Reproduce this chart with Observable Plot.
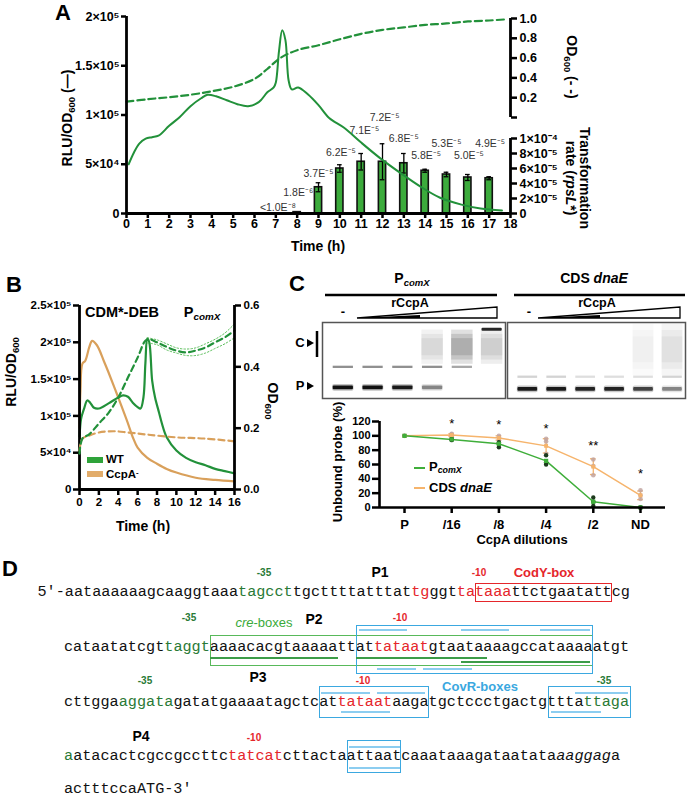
<!DOCTYPE html>
<html><head><meta charset="utf-8">
<script src="https://cdn.jsdelivr.net/npm/d3@7"></script>
<script src="https://cdn.jsdelivr.net/npm/@observablehq/plot@0.6"></script>
<style>
body{margin:0;background:#fff}
#root{position:relative;width:691px;height:799px;overflow:hidden;background:#fff;font-family:'Liberation Sans',Arial,sans-serif}
#root svg{position:absolute;overflow:visible;max-width:none}
#root sub{font-size:0.68em;vertical-align:-0.3em;line-height:0}
#root sup{font-size:0.68em;vertical-align:0.45em;line-height:0}
</style></head><body><div id="root"></div>
<script>
// ---------------- DATA ----------------
// Panel A: RLU/OD600 (solid), in thousands
const aRluTime = [0.1,0.35,0.6,0.9,1.2,1.5,2.0,2.5,3.0,3.5,3.8,4.2,4.7,5.2,5.7,6.2,6.6,6.9,7.0,7.15,7.3,7.45,7.6,7.75,8.05,8.5,9.0,9.5,10.2,11.0,11.9,12.85,13.8,14.7,15.7,16.6,17.6];
const aRluK    = [50,62,71,76,77.5,79,89,98,109,117,120.5,119,115,111,109,113,123,128,133,165,186,176,135,126,128,121,110,97,87,72,56,41,27,16,9,5,3];
// Panel A: OD600 (dashed)
const aOdTime = [0,1,2,3,4,5,6,6.6,7.2,8,9,10,11,12,13,14,15,16,17,17.7];
const aOd     = [0.16,0.185,0.205,0.23,0.265,0.31,0.39,0.49,0.60,0.68,0.73,0.79,0.845,0.885,0.91,0.935,0.95,0.97,0.98,0.99];
// Panel A: transformation rate bars (x 1e-5)
const barTime  = [7,8,9,10,11,12,13,14,15,16,17];
const barRate  = [0.001,0.18,3.5,6.0,6.9,6.9,6.7,5.7,5.2,4.8,4.7];
const barErr   = [0,0,0.6,0.5,1.1,2.4,1.3,0.2,0.3,0.4,0.2];
const barLabel = ["<1.0E⁻⁸","1.8E⁻⁶","3.7E⁻⁵","6.2E⁻⁵","7.1E⁻⁵","7.2E⁻⁵","6.8E⁻⁵","5.8E⁻⁵","5.3E⁻⁵","5.0E⁻⁵","4.9E⁻⁵"];
const barLabelTime = [7.1,8.05,9.0,10.05,11.15,12.1,13.0,14.05,15.0,16.05,17.05];
const barLabelRate = [0.8,2.8,5.3,8.1,11.1,12.8,10.0,7.7,9.3,7.7,9.3];

// Panel B
const wtTime = [0,0.15,0.3,0.5,0.8,1.1,1.5,2,3,4,4.5,5,5.5,6,6.3,6.6,6.8,7.0,7.2,7.5,7.8,8.2,8.5,9,10,11,12,13,14,15,16];
const wtRluK = [72,95,103,111,121,118,111,110,117,125,128,126,118,112,110,125,171,205,200,148,125,105,90,71,53,43,37,33,28,25,22];
const ccpaTime = [0,0.1,0.3,0.6,1.0,1.3,1.8,2.5,3,4,5,5.5,6,7,8,9,10,12,14,16];
const ccpaRluK = [84,135,171,175,193,202,196,175,159,125,90,71,57,43,35,28,23,16,13,11];
const wtOdTime = [0,0.3,1,2,3,4,5,6,6.8,7.2,8,9,10,11,12,13,14,15,16];
const wtOd     = [0.117,0.166,0.18,0.215,0.25,0.30,0.365,0.43,0.485,0.49,0.48,0.465,0.453,0.447,0.453,0.463,0.48,0.496,0.518];
const wtOdSdTime = [7,8,9,10,11,12,13,14,15,16];
const wtOdUpper  = [0.495,0.488,0.475,0.462,0.458,0.462,0.475,0.49,0.51,0.54];
const wtOdLower  = [0.478,0.472,0.455,0.445,0.437,0.437,0.445,0.46,0.475,0.495];
const ccpaOdTime = [0,0.3,1,2,3.5,5,7,10,13,16];
const ccpaOd     = [0.127,0.166,0.176,0.186,0.19,0.186,0.179,0.17,0.166,0.157];

// Panel C
const dilutions = ["P","/16","/8","/4","/2","ND"];
const comxMean = [100,95,89,65,8,0];
const comxReps = [[100],[94,96],[84,88,91],[60,63,73],[2,8,14],[0,0]];
const dnaeMean = [100,101,97,86,57,17];
const dnaeSd   = [0,2,3,10,11,6];
const dnaeReps = [[100],[98,102,103],[94,98,100],[75,92,96],[45,58,67],[12,17,24]];
const signif   = ["","*","*","*","**","*"];
const signifLevel = [0,117,115,110,86,47];
// gel lanes (intensity 0..1)
const lanes = [1,2,3,4,5,6];
const comxFree    = [1,1,0.95,0.45,0,0];
const comxUpper   = [0.5,0.5,0.5,0.5,0.4,0];
const comxSmear   = [0,0,0,0.06,0.14,0.08];
const comxComplex = [0,0,0,0,0,0.9];
const dnaeFree    = [0.95,0.95,0.9,0.9,0.75,0.45];
const dnaeUpper   = [0.2,0.2,0.15,0.15,0.15,0.2];
const dnaeSmear   = [0,0,0,0,0.025,0.045];

// ---------------- HELPERS ----------------
const SANS = "'Liberation Sans', Arial, sans-serif";
const MONO = "'Liberation Mono', 'Courier New', monospace";
const GREEN = "#22913a", BAR = "#3cab3c", TAN = "#d9a05b", CG = "#3fae3a", CO = "#f6b46c";
const root = document.getElementById("root");
const W = 691;
const SUP = {"0":"⁰","1":"¹","2":"²","3":"³","4":"⁴","5":"⁵","6":"⁶","7":"⁷","8":"⁸","9":"⁹","-":"⁻"};
const sup = s => String(s).split("").map(c => SUP[c] ?? c).join("");
function sci(v) {
  if (v === 0) return "0";
  const e = Math.floor(Math.log10(v) + 1e-9);
  const m = +(v / 10 ** e).toFixed(1);
  return `${m}×10${sup(e)}`;
}
const st = fs => ({fontFamily: SANS, fontSize: fs + "px", fontWeight: "bold", color: "#000", background: "transparent", overflow: "visible"});
function place(svg, left, top) {
  svg.style.position = "absolute"; svg.style.left = left + "px"; svg.style.top = top + "px";
  root.appendChild(svg);
}
function lab(html, x, y, o = {}) {
  const d = document.createElement("div");
  d.innerHTML = html;
  const ax = o.anchor === "start" ? 0 : -50;
  Object.assign(d.style, {position: "absolute", left: x + "px", top: y + "px",
    transform: `translate(${ax}%, -50%) rotate(${o.rot || 0}deg)`, transformOrigin: o.anchor === "start" ? "left center" : "center",
    whiteSpace: "nowrap", fontSize: (o.size || 13) + "px", fontWeight: o.weight || "bold",
    color: o.color || "#000", lineHeight: o.lh || "1.1", fontFamily: SANS, textAlign: "center",
    fontStyle: o.italic ? "italic" : "normal"});
  root.appendChild(d);
}
function rectDiv(x, y, w, h, color) {
  const d = document.createElement("div");
  Object.assign(d.style, {position: "absolute", left: x + "px", top: y + "px", width: w + "px", height: h + "px", background: color});
  root.appendChild(d);
}

// ---------------- PANEL A ----------------
const aOdData = aOdTime.map((t, i) => ({t, v: aOd[i]}));
place(Plot.plot({
  width: W, height: 260, marginLeft: 126, marginRight: W - 510, marginTop: 18, marginBottom: 143,
  x: {domain: [0, 18], axis: null}, y: {domain: [0, 1]}, style: st(12.5),
  marks: [
    Plot.line(aOdData, {x: "t", y: "v", stroke: GREEN, strokeWidth: 2.2, strokeDasharray: "7,4", curve: "catmull-rom"}),
    Plot.ruleX([18], {strokeWidth: 2.8}),
    Plot.axisY({anchor: "right", ticks: [0, 0.2, 0.4, 0.6, 0.8, 1], tickFormat: d => d === 0 ? "" : d.toFixed(1), tickSize: 6, tickPadding: 3, strokeWidth: 2.5, label: null})
  ]
}), 0, 0);

const bars = barTime.map((t, i) => ({t, v: barRate[i], e: barErr[i], lab: barLabel[i], lt: barLabelTime[i], ly: barLabelRate[i]}));
const errBars = bars.filter(d => d.e > 0);
place(Plot.plot({
  width: W, height: 260, marginLeft: 126, marginRight: W - 510, marginTop: 138, marginBottom: 47,
  x: {domain: [0, 18], axis: null}, y: {domain: [0, 10]}, style: st(12.5),
  marks: [
    Plot.rect(bars, {x1: d => d.t - 0.17, x2: d => d.t + 0.17, y1: 0, y2: "v", fill: BAR, stroke: "#111", strokeWidth: 1.6}),
    Plot.ruleX(errBars, {x: "t", y1: d => d.v - d.e, y2: d => d.v + d.e, strokeWidth: 1.3}),
    Plot.ruleY(errBars, {y: d => d.v + d.e, x1: d => d.t - 0.11, x2: d => d.t + 0.11, strokeWidth: 1.3}),
    Plot.ruleY(errBars, {y: d => d.v - d.e, x1: d => d.t - 0.11, x2: d => d.t + 0.11, strokeWidth: 1.3}),
    Plot.text(bars, {x: "lt", y: "ly", text: "lab", fontSize: 10.5, fontWeight: "normal", fill: "#333"}),
    Plot.ruleX([18], {strokeWidth: 2.8}),
    Plot.axisY({anchor: "right", ticks: [0, 2, 4, 6, 8, 10], tickFormat: d => d === 0 ? "0" : sci(d * 1e-5), tickSize: 6, tickPadding: 3, strokeWidth: 2.5, label: null})
  ]
}), 0, 0);

const aRluData = aRluTime.map((t, i) => ({t, v: aRluK[i] * 1000}));
place(Plot.plot({
  width: W, height: 260, marginLeft: 126, marginRight: W - 510, marginTop: 16, marginBottom: 47,
  x: {domain: [0, 18]}, y: {domain: [0, 2e5]}, style: st(12.5),
  marks: [
    Plot.line(aRluData, {x: "t", y: "v", stroke: GREEN, strokeWidth: 2, curve: "catmull-rom"}),
    Plot.ruleY([0], {strokeWidth: 2.8}),
    Plot.ruleX([0], {strokeWidth: 2.8}),
    Plot.axisX({ticks: d3.range(0, 19), tickFormat: d => String(d), tickSize: 5, tickPadding: 1, strokeWidth: 2.5, label: null}),
    Plot.axisY({ticks: [0, 5e4, 1e5, 1.5e5, 2e5], tickFormat: d => sci(d), tickSize: 5, tickPadding: 2, strokeWidth: 2.5, label: null})
  ]
}), 0, 0);

lab("A", 63, 13, {size: 22});
lab("RLU/OD<sub>600</sub> (—)", 68, 118, {size: 14, rot: -90});
lab("OD<sub>600</sub> (- -)", 571, 67, {size: 14, rot: 90});
lab("Transformation<br>rate (<i>rpsL</i>*)", 578, 178, {size: 14, rot: 90, lh: "1.0"});
lab("Time (h)", 318, 247, {size: 14});

// ---------------- PANEL B ----------------
const wtRlu = wtTime.map((t, i) => ({t, v: wtRluK[i] * 1000}));
const ccpaRlu = ccpaTime.map((t, i) => ({t, v: ccpaRluK[i] * 1000}));
place(Plot.plot({
  width: 300, height: 260, marginLeft: 79, marginRight: 66, marginTop: 25, marginBottom: 51,
  x: {domain: [0, 16]}, y: {domain: [0, 2.5e5]}, style: st(11.5),
  marks: [
    Plot.line(ccpaRlu, {x: "t", y: "v", stroke: TAN, strokeWidth: 2.2, curve: "catmull-rom"}),
    Plot.line(wtRlu, {x: "t", y: "v", stroke: GREEN, strokeWidth: 2.2, curve: "catmull-rom"}),
    Plot.ruleY([0], {strokeWidth: 2.8}),
    Plot.ruleX([0], {strokeWidth: 2.8}),
    Plot.axisX({ticks: d3.range(0, 17, 2), tickFormat: d => String(d), tickSize: 6, tickPadding: 2, strokeWidth: 2.5, label: null}),
    Plot.axisY({ticks: d3.range(0, 2.5e5 + 1, 5e4), tickFormat: d => sci(d), tickSize: 6, tickPadding: 2, strokeWidth: 2.5, label: null})
  ]
}), 0, 280);
const wtOdData = wtOdTime.map((t, i) => ({t, v: wtOd[i]}));
const wtUp = wtOdSdTime.map((t, i) => ({t, v: wtOdUpper[i]}));
const wtLo = wtOdSdTime.map((t, i) => ({t, v: wtOdLower[i]}));
const ccpaOdData = ccpaOdTime.map((t, i) => ({t, v: ccpaOd[i]}));
place(Plot.plot({
  width: 300, height: 260, marginLeft: 79, marginRight: 66, marginTop: 25, marginBottom: 51,
  x: {domain: [0, 16], axis: null}, y: {domain: [0, 0.6]}, style: st(11.5),
  marks: [
    Plot.line(wtUp, {x: "t", y: "v", stroke: "#5cbf5c", strokeWidth: 1, strokeDasharray: "1.5,2", curve: "catmull-rom"}),
    Plot.line(wtLo, {x: "t", y: "v", stroke: "#5cbf5c", strokeWidth: 1, strokeDasharray: "1.5,2", curve: "catmull-rom"}),
    Plot.line(ccpaOdData, {x: "t", y: "v", stroke: TAN, strokeWidth: 2.2, strokeDasharray: "6,4", curve: "catmull-rom"}),
    Plot.line(wtOdData, {x: "t", y: "v", stroke: GREEN, strokeWidth: 2.2, strokeDasharray: "6,4", curve: "catmull-rom"}),
    Plot.ruleX([16], {strokeWidth: 2.8}),
    Plot.axisY({anchor: "right", ticks: [0, 0.2, 0.4, 0.6], tickFormat: d => d.toFixed(1), tickSize: 6, tickPadding: 3, strokeWidth: 2.5, label: null})
  ]
}), 0, 280);

lab("B", 14, 285, {size: 22});
lab("CDM*-DEB", 122, 313, {size: 14.5});
lab("P<sub><i>comX</i></sub>", 202, 313, {size: 14.5});
lab("RLU/OD<sub>600</sub>", 12, 372, {size: 14, rot: -90});
lab("OD<sub>600</sub>", 272, 401, {size: 14, rot: 90});
lab("Time (h)", 143, 527, {size: 14});
rectDiv(87, 457, 16, 6, "#2fa33a");
rectDiv(87, 471, 16, 6, "#e2ac6a");
lab("WT", 106, 460, {size: 11.5, anchor: "start", lh: "1.0"});
lab("CcpA<sup>-</sup>", 106, 475, {size: 11.5, anchor: "start", lh: "1.0"});

// ---------------- PANEL C ----------------
function gelPlot(free, freePos, upper, upperPos, smear, smearTop, smearBot, complex, w) {
  const rows = lanes.map((l, i) => ({l, free: free[i], upper: upper[i], smear: smear[i], complex: complex ? complex[i] : 0}));
  const span = smearBot - smearTop;
  const smearMarks = [0, 0.25, 0.5].map(f => Plot.rect(rows, {x1: d => d.l - 0.36, x2: d => d.l + 0.36, y1: smearTop + f * span * 0.5, y2: smearBot - f * span * 0.5, fill: "#222", fillOpacity: "smear"}));
  return Plot.plot({
    width: w, height: 76, margin: 0,
    x: {domain: [0.3, 6.45], axis: null}, y: {domain: [0, 1], range: [0, 76], axis: null},
    style: {background: "transparent", overflow: "visible"},
    marks: [
      ...smearMarks,
      Plot.rect(rows, {x1: d => d.l - 0.34, x2: d => d.l + 0.34, y1: upperPos - 0.015, y2: upperPos + 0.015, fill: "#222", fillOpacity: "upper"}),
      Plot.rect(rows, {x1: d => d.l - 0.36, x2: d => d.l + 0.36, y1: freePos - 0.045, y2: freePos + 0.045, fill: "#111", fillOpacity: d => d.free * 0.25, rx: 2}),
      Plot.rect(rows, {x1: d => d.l - 0.34, x2: d => d.l + 0.34, y1: freePos - 0.025, y2: freePos + 0.025, fill: "#111", fillOpacity: "free", rx: 1}),
      Plot.rect(rows, {x1: d => d.l - 0.34, x2: d => d.l + 0.34, y1: 0.075, y2: 0.115, fill: "#111", fillOpacity: "complex", rx: 1}),
      Plot.frame({stroke: "#555", strokeWidth: 1.5})
    ]
  });
}
place(gelPlot(comxFree, 0.86, comxUpper, 0.59, comxSmear, 0.1, 0.55, comxComplex, 183), 322, 322);
place(gelPlot(dnaeFree, 0.88, dnaeUpper, 0.72, dnaeSmear, 0.02, 0.7, null, 178), 507, 322);

const comx = dilutions.map((c, i) => ({i, m: comxMean[i]}));
const dnae = dilutions.map((c, i) => ({i, m: dnaeMean[i], sd: dnaeSd[i]}));
const comxPts = comxReps.flatMap((r, i) => r.map(v => ({i, v})));
const dnaePts = dnaeReps.flatMap((r, i) => r.map(v => ({i, v})));
const stars = signif.map((s, i) => ({i, s, y: signifLevel[i]})).filter(d => d.s);
const dErr = dnae.filter(d => d.sd > 0);
place(Plot.plot({
  width: 401, height: 150, marginLeft: 89, marginRight: 26, marginTop: 21, marginBottom: 43,
  x: {domain: [-0.53, 5.53]}, y: {domain: [0, 120]}, style: st(11),
  marks: [
    Plot.ruleX(dErr, {x: "i", y1: d => d.m - d.sd, y2: d => d.m + d.sd, stroke: CO, strokeWidth: 1.3}),
    Plot.ruleY(dErr, {y: d => d.m + d.sd, x1: d => d.i - 0.06, x2: d => d.i + 0.06, stroke: CO, strokeWidth: 1.3}),
    Plot.ruleY(dErr, {y: d => d.m - d.sd, x1: d => d.i - 0.06, x2: d => d.i + 0.06, stroke: CO, strokeWidth: 1.3}),
    Plot.line(dnae, {x: "i", y: "m", stroke: CO, strokeWidth: 1.5}),
    Plot.line(comx, {x: "i", y: "m", stroke: CG, strokeWidth: 1.5}),
    Plot.dot(dnaePts, {x: "i", y: "v", r: 2.3, fill: "#c2a5a0", fillOpacity: 0.85}),
    Plot.dot(comxPts, {x: "i", y: "v", r: 2.2, fill: "#1d3a1d"}),
    Plot.dot(dnae, {x: "i", y: "m", r: 2.2, symbol: "square", fill: CO}),
    Plot.dot(comx, {x: "i", y: "m", r: 2.4, symbol: "square", fill: CG}),
    Plot.text(stars, {x: "i", y: "y", text: "s", fontSize: 13, fontWeight: "normal"}),
    Plot.ruleY([0], {strokeWidth: 2.6}),
    Plot.ruleX([-0.53], {strokeWidth: 2.6}),
    Plot.axisX({ticks: [0, 1, 2, 3, 4, 5], tickFormat: i => dilutions[i], tickSize: 6, tickPadding: 6, strokeWidth: 2.5, fontSize: 13, label: null}),
    Plot.axisY({ticks: d3.range(0, 121, 20), tickSize: 7, tickPadding: 2, strokeWidth: 2.5, label: null})
  ]
}), 290, 400);

lab("C", 297, 284, {size: 22});
lab("P<sub><i>comX</i></sub>", 412, 279, {size: 14});
lab("CDS <i>dnaE</i>", 594, 279, {size: 14});
lab("-", 343, 312, {size: 13});
lab("rCcpA", 410, 304, {size: 12.5});
lab("-", 529, 312, {size: 13});
lab("rCcpA", 597, 304, {size: 12.5});
lab("C", 300, 343, {size: 13});
lab("P", 300, 386, {size: 13});
lab("Unbound probe (%)", 338, 462, {size: 13, rot: -90});
lab("CcpA dilutions", 522, 540, {size: 13});
rectDiv(414, 467, 11, 2, CG);
rectDiv(414, 487, 11, 2, CO);
lab("P<sub><i>comX</i></sub>", 429, 467, {size: 13, anchor: "start"});
lab("CDS <i>dnaE</i>", 429, 488, {size: 13, anchor: "start"});

const deco = document.createElementNS("http://www.w3.org/2000/svg", "svg");
deco.setAttribute("width", 691); deco.setAttribute("height", 799);
deco.style.left = "0px"; deco.style.top = "0px"; deco.style.pointerEvents = "none";
deco.innerHTML = `
<line x1="325" y1="295" x2="497" y2="295" stroke="#000" stroke-width="2.5"/>
<line x1="514" y1="295" x2="685" y2="295" stroke="#000" stroke-width="2.5"/>
<polygon points="357,318 497,318 497,307" fill="none" stroke="#000" stroke-width="1.3"/>
<polygon points="357,318 420,318 420,315" fill="#000"/>
<polygon points="538,318 680,318 680,307" fill="none" stroke="#000" stroke-width="1.3"/>
<polygon points="538,318 600,318 600,315" fill="#000"/>
<line x1="317" y1="331" x2="317" y2="357" stroke="#000" stroke-width="2.5"/>
<polygon points="307,339 314,343 307,347" fill="#000"/>
<polygon points="307,382 314,386 307,390" fill="#000"/>`;
root.appendChild(deco);

// ---------------- PANEL D ----------------
const K = "#111", DG = "#2a7a36", RD = "#e5262b", BL = "#3ba8e0", LB = "#8ccdf0", GB = "#58b95a", GL = "#3c9c48";
const CW = 9.12, FS = 15.2, X1 = 37.5, X0 = 64;
function seqLine(segs, x0, yc) {
  const d = document.createElement("div");
  Object.assign(d.style, {position: "absolute", left: x0 + "px", top: (yc - 8) + "px", fontFamily: MONO, fontSize: FS + "px", lineHeight: "16px", whiteSpace: "pre", color: K});
  d.innerHTML = segs.map(([t, c, it]) => `<span style="color:${c};${it ? "font-style:italic" : ""}">${t}</span>`).join("");
  root.appendChild(d);
}
function box(x0, i1, i2, y1, y2, color) {
  const d = document.createElement("div");
  Object.assign(d.style, {position: "absolute", left: (x0 + i1 * CW) + "px", top: y1 + "px", width: ((i2 - i1) * CW) + "px", height: (y2 - y1) + "px", border: `1.5px solid ${color}`, boxSizing: "border-box"});
  root.appendChild(d);
}
function hl(x0, i1, i2, y, color) { rectDiv(x0 + i1 * CW, y, (i2 - i1) * CW, 1.6, color); }

lab("D", 10, 569, {size: 22});
seqLine([["5′-aataaaaaagcaaggtaaa", K], ["tagcct", DG], ["tgcttttatttat", K], ["tg", RD], ["ggt", K], ["tataaa", RD], ["ttctgaatattcg", K]], X1, 592);
box(X1, 48, 63, 583, 602, RD);
lab("-35", 264, 572, {size: 10, color: DG});
lab("P1", 380, 573, {size: 14});
lab("-10", 479, 572, {size: 10, color: RD});
lab("CodY-box", 544, 573, {size: 13, color: RD});

seqLine([["cataatatcgt", K], ["taggt", DG], ["aaaacacgtaaaaattat", K], ["tataat", RD], ["gtaataaaagccataaaaatgt", K]], X0, 647);
box(X0, 16, 58, 635, 666, GB);
box(X0, 32, 58, 625, 674, BL);
hl(X0, 32.4, 37.6, 629, LB); hl(X0, 43.5, 48.8, 629, LB); hl(X0, 52.2, 57.7, 629, LB);
hl(X0, 16, 30, 657, GL); hl(X0, 32, 46.4, 657, GL); hl(X0, 43.5, 57.7, 661, GL);
hl(X0, 34.3, 38.6, 668, LB); hl(X0, 39.4, 44.7, 668, LB);
lab("-35", 189, 617, {size: 10, color: DG});
lab("<i>cre</i>-boxes", 264, 623, {size: 13, color: "#3aaa3a", weight: "normal"});
lab("P2", 314, 620, {size: 14});
lab("-10", 400, 617, {size: 10, color: RD});

seqLine([["cttgga", K], ["aggata", DG], ["gatatgaaaatagctcat", K], ["tataat", RD], ["aagatgctccctgactgttta", K], ["ttaga", DG]], X0, 702);
box(X0, 28, 40, 686, 718, BL);
box(X0, 53.1, 62.2, 686, 718, BL);
hl(X0, 28.2, 33.5, 692, LB); hl(X0, 34.3, 39.6, 692, LB); hl(X0, 56, 61.8, 692, LB);
hl(X0, 30.4, 35.7, 711, LB); hl(X0, 53.4, 58.9, 711, LB);
lab("-35", 145, 680, {size: 10, color: DG});
lab("P3", 258, 678, {size: 14});
lab("-10", 363, 680, {size: 10, color: RD});
lab("CovR-boxes", 480, 687, {size: 13, color: BL});
lab("-35", 604, 680, {size: 10, color: DG});

seqLine([["a", DG], ["atacactcgccgccttc", K], ["tatcat", RD], ["cttactaattaatcaaataaagataatata", K], ["aaggag", K, true], ["a", K]], X0, 756);
box(X0, 31, 37, 740, 773, BL);
hl(X0, 31.2, 36.8, 746, LB); hl(X0, 31.2, 36.8, 767, LB);
lab("P4", 141, 737, {size: 14});
lab("-10", 254, 737, {size: 10, color: RD});

seqLine([["actttccaATG-3′", K]], X0, 789);
</script></body></html>
